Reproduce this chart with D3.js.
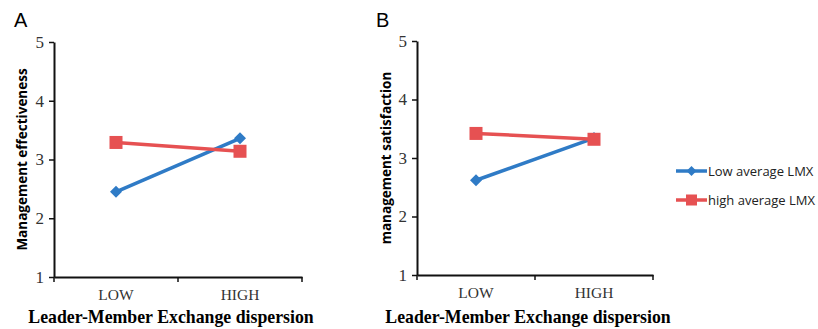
<!DOCTYPE html>
<html>
<head>
<meta charset="utf-8">
<script src="https://cdn.jsdelivr.net/npm/d3@7"></script>
<style>
  body { margin: 0; background: #fff; }
  svg { display: block; }
  .tick text { font-family: "Liberation Serif", "Times New Roman", serif; fill: #333; }
</style>
</head>
<body>
<div id="chart"></div>
<script>
// data
var categories = ["LOW", "HIGH"];
var seriesNames = ["Low average LMX", "high average LMX"];
var effectivenessLow = [2.45, 3.36];
var effectivenessHigh = [3.29, 3.14];
var satisfactionLow = [2.62, 3.34];
var satisfactionHigh = [3.42, 3.32];
var yTicks = [1, 2, 3, 4, 5];

var width = 818, height = 329;
var colors = ["#2f7bc6", "#e65152"];

var svg = d3.select("#chart").append("svg")
  .attr("width", width)
  .attr("height", height);

var panels = [
  {letter: "A", ytitle: "Management effectiveness", low: effectivenessLow, high: effectivenessHigh,
   left: 54, top: 42, w: 248, h: 235, letterX: 14, titleX: 171, ytitleX: 22},
  {letter: "B", ytitle: "management satisfaction", low: satisfactionLow, high: satisfactionHigh,
   left: 417, top: 41, w: 236, h: 234, letterX: 376, titleX: 528, ytitleX: 386}
];

panels.forEach(function(p) {
  var g = svg.append("g").attr("transform", `translate(${p.left},${p.top})`);

  var x = d3.scaleBand().domain(categories).range([0, p.w]);
  var y = d3.scaleLinear().domain([1, 5]).range([p.h, 0]);

  // y axis
  var yAxis = g.append("g")
    .call(d3.axisLeft(y).tickValues(yTicks).tickFormat(d3.format("d"))
      .tickSize(5).tickSizeOuter(0).tickPadding(5));
  yAxis.select(".domain").attr("stroke", "#111").attr("stroke-width", 2);
  yAxis.selectAll(".tick line").attr("stroke", "#111").attr("stroke-width", 1.5);
  yAxis.selectAll(".tick text").style("font-size", "17px");

  // x axis (labels centered in bands, ticks on band edges)
  var xAxis = g.append("g")
    .attr("transform", `translate(0,${p.h})`)
    .call(d3.axisBottom(x).tickSize(0).tickSizeOuter(0).tickPadding(12));
  xAxis.select(".domain").attr("stroke", "#111").attr("stroke-width", 2);
  xAxis.selectAll(".tick text").style("font-size", "15.5px");
  var edges = categories.map(c => x(c)).concat([x(categories[categories.length - 1]) + x.bandwidth()]);
  xAxis.selectAll(".edge").data(edges).enter().append("line")
    .attr("x1", d => d).attr("x2", d => d)
    .attr("y1", 0).attr("y2", 5)
    .attr("stroke", "#111").attr("stroke-width", 1.5);

  var cx = c => x(c) + x.bandwidth() / 2;
  var line = d3.line().x((d, i) => cx(categories[i])).y(d => y(d));

  // series lines
  [p.low, p.high].forEach(function(vals, k) {
    g.append("path").datum(vals)
      .attr("fill", "none")
      .attr("stroke", colors[k])
      .attr("stroke-width", 3.5)
      .attr("d", line);
  });

  // markers
  g.selectAll(".diamond").data(p.low).enter().append("path")
    .attr("transform", (d, i) => `translate(${cx(categories[i])},${y(d)})`)
    .attr("d", "M0,-6L6,0L0,6L-6,0Z")
    .attr("fill", colors[0]);
  g.selectAll(".square").data(p.high).enter().append("rect")
    .attr("x", (d, i) => cx(categories[i]) - 6.5)
    .attr("y", d => y(d) - 6.5)
    .attr("width", 13).attr("height", 13)
    .attr("fill", colors[1]);

  // panel letter
  svg.append("text")
    .attr("x", p.letterX).attr("y", 27)
    .style("font-family", "'Liberation Sans', Arial, sans-serif")
    .style("font-size", "20px")
    .text(p.letter);

  // y title
  svg.append("text")
    .attr("transform", `translate(${p.ytitleX},${p.top + p.h * 0.5}) rotate(-90)`)
    .attr("text-anchor", "middle")
    .attr("dy", "0.35em")
    .style("font-family", "'Open Sans', sans-serif")
    .style("font-weight", "bold")
    .style("font-size", "13.5px")
    .text(p.ytitle);

  // x title
  svg.append("text")
    .attr("x", p.titleX).attr("y", 323)
    .attr("text-anchor", "middle")
    .style("font-family", "'Liberation Serif', 'Times New Roman', serif")
    .style("font-weight", "bold")
    .style("font-size", "17.8px")
    .text("Leader-Member Exchange dispersion");
});

// legend
var legend = svg.append("g").attr("transform", "translate(676,171)");
seriesNames.forEach(function(name, k) {
  var row = legend.append("g").attr("transform", `translate(0,${k * 29})`);
  row.append("line").attr("x1", 0).attr("x2", 31).attr("y1", 0).attr("y2", 0)
    .attr("stroke", colors[k]).attr("stroke-width", 3.5);
  if (k === 0) {
    row.append("path").attr("transform", "translate(15.5,0)")
      .attr("d", "M0,-5L5,0L0,5L-5,0Z").attr("fill", colors[k]);
  } else {
    row.append("rect").attr("x", 10).attr("y", -5.5).attr("width", 11).attr("height", 11)
      .attr("fill", colors[k]);
  }
  row.append("text").attr("x", 32).attr("dy", "0.35em")
    .style("font-family", "'Open Sans', sans-serif")
    .style("font-size", "13px")
    .style("fill", "#222")
    .text(name);
});
</script>
</body>
</html>
